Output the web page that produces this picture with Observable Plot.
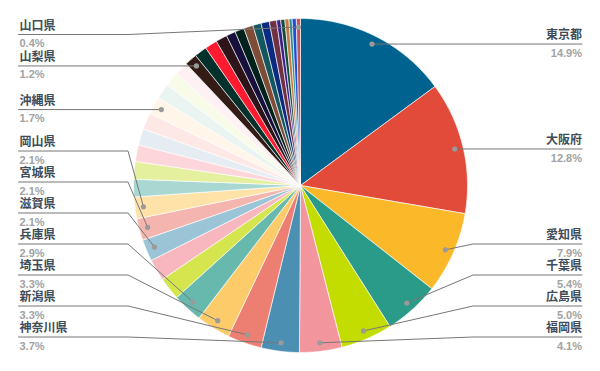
<!DOCTYPE html>
<html><head><meta charset="utf-8">
<script src="https://cdn.jsdelivr.net/npm/d3@7"></script>
<script src="https://cdn.jsdelivr.net/npm/@observablehq/plot@0.6"></script>
<style>html,body{margin:0;padding:0;background:#fff;} svg{display:block}</style>
</head><body><div id="chart"></div>
<script>
// Slices in clockwise order from 12 o'clock. "" = slice whose label is hidden in the original.
const names = ["東京都","大阪府","愛知県","千葉県","広島県","福岡県","神奈川県","新潟県","埼玉県","兵庫県",
  "","","滋賀県","宮城県","岡山県",
  "","","","","","沖縄県",
  "","","","山梨県",
  "","","","","","","","","","","","","","","山口県"];
const values = [14.9,12.8,7.9,5.4,5.0,4.1,3.7,3.3,3.3,2.9,
  2.2,2.1,2.1,2.1,2.1,
  1.7,1.7,1.6,1.6,1.6,1.7,
  1.5,1.4,1.3,1.2,
  1.2,1.2,1.1,0.9,0.9,0.9,0.8,0.8,0.7,0.4,0.4,0.4,0.3,0.4,0.4];
const colors = ["#00628f","#e24b39","#fbb829","#2a9a89","#c3dd00","#f3959d","#4b90b3","#ec7f72","#fecb6b","#68b9ad",
  "#d4e54e","#f8b7bf","#9bc4d6","#f4b5ae","#fee2a8",
  "#a9d8d3","#e5f09f","#fcd6db","#e5edf3","#fde8e6","#fff5e8",
  "#eaf4f1","#f8fbe8","#fef0f3","#321c15",
  "#05312c","#fe1a2f","#2c1419","#170f3c","#01211c","#7e4c37","#14575e","#0b2b80","#703243","#3b1e8c","#0d4e3b","#c47a46","#2b8b8d","#1b50d2","#c2555c"];

const W = 600, H = 371, cx = 300, cy = 185, R = 167, rDot = 158.5;
const arcs = d3.pie().sort(null).value(d => d)(values);

// slice outlines (center + arc) in the pixel-like x/y scale space
const poly = [];
arcs.forEach((p, i) => {
  const a0 = p.startAngle, a1 = p.endAngle;
  const n = Math.max(2, Math.ceil((a1 - a0) / (Math.PI / 360)));
  poly.push({i, x: cx, y: cy, c: colors[i]});
  for (let k = 0; k <= n; k++) {
    const a = a0 + (a1 - a0) * k / n;
    poly.push({i, x: cx + R * Math.sin(a), y: cy - R * Math.cos(a), c: colors[i]});
  }
  poly.push({i, x: cx, y: cy, c: colors[i]});
});

// labels: placed at the point's height, then spread apart (Highcharts-like)
const labs = arcs.map((p, i) => ({i, mid: (p.startAngle + p.endAngle) / 2})).filter(d => names[d.i]);
labs.forEach(d => {
  d.px = cx + rDot * Math.sin(d.mid);
  d.py = cy - rDot * Math.cos(d.mid);
  d.right = d.mid < Math.PI;
});
const gap = 31, topY = 34, botY = 336.5;
for (const side of [true, false]) {
  const s = labs.filter(d => d.right === side).sort((a, b) => a.py - b.py);
  s.forEach(d => d.ly = Math.min(Math.max(d.py, topY), botY));
  for (let k = s.length - 2; k >= 0; k--) s[k].ly = Math.min(s[k].ly, s[k + 1].ly - gap);
  for (let k = 1; k < s.length; k++) s[k].ly = Math.max(s[k].ly, s[k - 1].ly + gap);
}
labs.forEach(d => {
  d.ex = d.right ? cx + 172.5 : cx - 172.5;
  d.tx = d.right ? cx + 281.5 : cx - 282;
});
const conn = [];
labs.forEach(d => {
  conn.push({i: d.i, x: d.px, y: d.py});
  conn.push({i: d.i, x: d.ex, y: d.ly});
  conn.push({i: d.i, x: d.tx, y: d.ly});
});

const nameFont = "'Noto Sans CJK JP','Noto Sans',sans-serif";
const numFont = "'Liberation Sans',Arial,sans-serif";

const chart = Plot.plot({
  width: W, height: H, margin: 0,
  x: {domain: [0, W], range: [0, W], axis: null},
  y: {domain: [0, H], range: [0, H], axis: null},
  color: {type: "identity"},
  marks: [
    Plot.line(poly, {x: "x", y: "y", z: "i", fill: "c", stroke: "#ffffff", strokeWidth: 0.8, strokeOpacity: 0.8}),
    Plot.line(conn, {x: "x", y: "y", z: "i", stroke: "#777777", strokeWidth: 1}),
    Plot.dot(labs, {x: "px", y: "py", r: 2.6, fill: "#9a9a9a", stroke: "none"}),
    Plot.text(labs.filter(d => d.right), {x: "tx", y: "ly", dy: -8.5, text: d => names[d.i], textAnchor: "end",
      fill: "#3f4c59", fontWeight: "bold", fontSize: 12, fontFamily: nameFont}),
    Plot.text(labs.filter(d => !d.right), {x: d => d.tx + 1, y: "ly", dy: -8.5, text: d => names[d.i], textAnchor: "start",
      fill: "#3f4c59", fontWeight: "bold", fontSize: 12, fontFamily: nameFont}),
    Plot.text(labs.filter(d => d.right), {x: "tx", y: "ly", dy: 9, text: d => values[d.i].toFixed(1) + "%", textAnchor: "end",
      fill: "#a2a2a2", fontWeight: "bold", fontSize: 11, fontFamily: numFont}),
    Plot.text(labs.filter(d => !d.right), {x: d => d.tx + 1, y: "ly", dy: 9, text: d => values[d.i].toFixed(1) + "%", textAnchor: "start",
      fill: "#a2a2a2", fontWeight: "bold", fontSize: 11, fontFamily: numFont})
  ]
});
document.getElementById("chart").appendChild(chart);
</script>
</body></html>
